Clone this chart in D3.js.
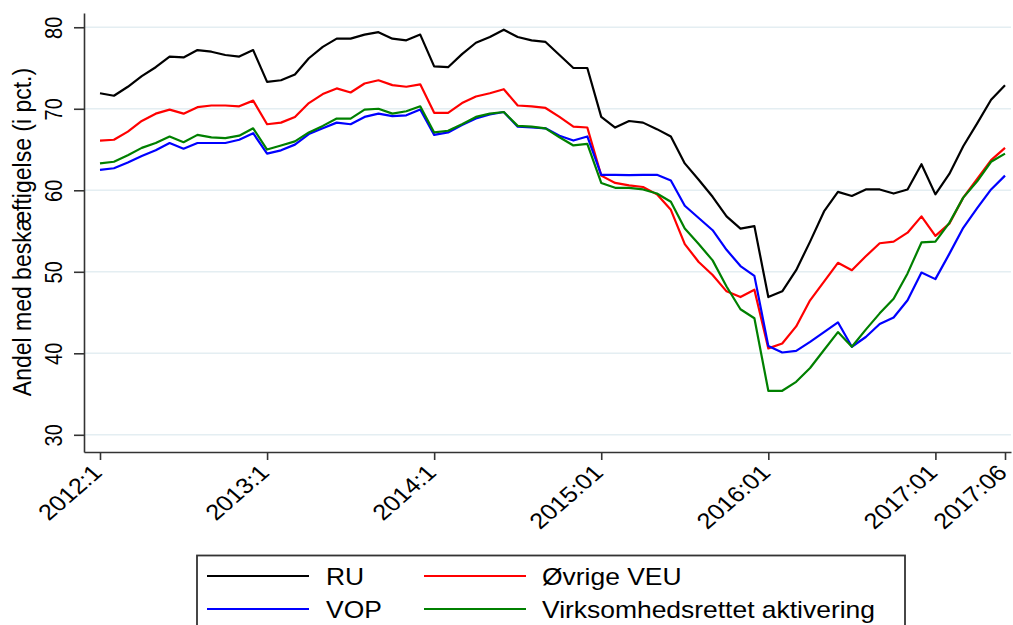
<!DOCTYPE html>
<html><head><meta charset="utf-8">
<script src="https://cdn.jsdelivr.net/npm/d3@7"></script>
<style>body{margin:0;background:#fff}svg{display:block;font-family:Arial,"Liberation Sans",sans-serif}</style>
</head><body><svg id="c" width="1013" height="625"></svg>
<script>
// Monthly observations 2012:1 .. 2017:06 (66 months)
const tickIdx = [0, 12, 24, 36, 48, 60, 65];
const tickLabels = ["2012:1", "2013:1", "2014:1", "2015:01", "2016:01", "2017:01", "2017:06"];
const yTicks = [30, 40, 50, 60, 70, 80];
const seriesNames = ["RU", "Øvrige VEU", "VOP", "Virksomhedsrettet aktivering"];
const seriesColors = ["#000000", "#ff0000", "#0000ff", "#008000"];

const RU = [71.9,71.6,72.7,74.0,75.1,76.4,76.3,77.2,77.0,76.6,76.4,77.2,
  73.3,73.5,74.2,76.2,77.6,78.6,78.6,79.1,79.4,78.6,78.4,79.1,
  75.2,75.1,76.7,78.1,78.8,79.7,78.8,78.4,78.2,76.6,75.0,75.0,
  69.0,67.7,68.5,68.3,67.5,66.6,63.3,61.3,59.2,56.8,55.3,55.6,
  46.9,47.6,50.2,53.7,57.4,59.8,59.3,60.1,60.1,59.6,60.1,63.2,
  59.5,62.0,65.4,68.2,71.1,72.9];
const VEU = [66.1,66.2,67.2,68.5,69.4,69.9,69.4,70.2,70.4,70.4,70.3,71.0,
  68.1,68.3,69.0,70.7,71.8,72.5,72.0,73.1,73.5,72.9,72.7,73.0,
  69.5,69.5,70.7,71.5,71.9,72.4,70.4,70.3,70.1,69.0,67.8,67.7,
  61.8,60.9,60.6,60.4,59.5,57.6,53.4,51.2,49.6,47.6,46.9,47.8,
  40.6,41.2,43.3,46.5,48.8,51.1,50.2,51.9,53.5,53.7,54.8,56.8,
  54.4,55.9,59.1,61.4,63.7,65.2];
const VOP = [62.5,62.7,63.4,64.2,64.9,65.8,65.1,65.8,65.8,65.8,66.2,67.0,
  64.5,64.9,65.6,66.9,67.6,68.3,68.1,69.0,69.4,69.1,69.2,69.9,
  66.8,67.1,68.0,68.8,69.3,69.6,67.8,67.7,67.6,66.7,66.1,66.6,
  61.9,61.9,61.85,61.9,61.9,61.2,58.1,56.6,55.1,52.7,50.7,49.5,
  40.9,40.1,40.3,41.4,42.6,43.8,40.8,42.0,43.6,44.4,46.5,49.9,
  49.1,52.2,55.4,57.8,60.1,61.8];
const VIRK = [63.3,63.5,64.3,65.2,65.8,66.6,65.9,66.8,66.5,66.4,66.7,67.6,
  65.0,65.5,66.0,67.1,67.9,68.8,68.8,69.9,70.0,69.4,69.7,70.3,
  67.1,67.3,68.1,69.0,69.4,69.6,67.9,67.8,67.6,66.5,65.5,65.7,
  60.9,60.3,60.3,60.1,59.6,58.6,55.3,53.4,51.4,48.2,45.4,44.3,
  35.4,35.4,36.5,38.2,40.4,42.6,40.8,42.9,44.9,46.7,49.8,53.6,
  53.7,56.0,59.1,61.1,63.5,64.5];

const allSeries = [RU, VEU, VOP, VIRK];
const SX = 1.15; // horizontal stretch of the original rendering's text

const svg = d3.select("#c");
const pLeft = 84, pRight = 1011, pTop = 13, pBottom = 452;

const x = d3.scaleLinear().domain([-1.149, 65.43]).range([pLeft, pRight]);
const y = d3.scaleLinear().domain([27.89, 81.75]).range([pBottom, pTop]);

// gridlines
svg.append("g").selectAll("line").data(yTicks).join("line")
  .attr("x1", pLeft).attr("x2", pRight)
  .attr("y1", d => y(d)).attr("y2", d => y(d))
  .attr("stroke", "#e4eef2").attr("stroke-width", 1.6);

// lines
const line = d3.line().x((d, i) => x(i)).y(d => y(d));
svg.append("g").selectAll("path").data(allSeries).join("path")
  .attr("d", d => line(d))
  .attr("fill", "none")
  .attr("stroke", (d, i) => seriesColors[i])
  .attr("stroke-width", 2.2)
  .attr("stroke-linejoin", "round");

// y axis
const gy = svg.append("g").attr("transform", `translate(${pLeft},0)`)
  .call(d3.axisLeft(y).tickValues(yTicks).tickSize(10).tickSizeOuter(0).tickFormat(d3.format("d")));
gy.select(".domain").attr("stroke", "#333").attr("stroke-width", 1.6);
gy.selectAll(".tick line").attr("stroke", "#333").attr("stroke-width", 1.6);
gy.selectAll(".tick text")
  .attr("x", null).attr("y", null).attr("dy", null)
  .attr("transform", `translate(-22,0) scale(${SX},1) rotate(-90)`)
  .attr("text-anchor", "middle")
  .attr("font-size", 20).attr("fill", "#000")
  .attr("font-family", "Arial, 'Liberation Sans', sans-serif");

// x axis
const gx = svg.append("g").attr("transform", `translate(0,${pBottom})`)
  .call(d3.axisBottom(x).tickValues(tickIdx).tickSize(8).tickSizeOuter(0)
    .tickFormat((d, i) => tickLabels[i]));
gx.select(".domain").attr("stroke", "#333").attr("stroke-width", 1.6);
gx.selectAll(".tick line").attr("stroke", "#333").attr("stroke-width", 1.6);
gx.selectAll(".tick text")
  .attr("x", null).attr("y", null).attr("dy", null)
  .attr("transform", `translate(3,22) scale(${SX},1) rotate(-45)`)
  .attr("text-anchor", "end")
  .attr("font-size", 22).attr("fill", "#000")
  .attr("font-family", "Arial, 'Liberation Sans', sans-serif");

// y title
svg.append("text")
  .attr("transform", `translate(31,232) scale(${SX},1) rotate(-90)`)
  .attr("text-anchor", "middle").attr("font-size", 23).attr("fill", "#000")
  .text("Andel med beskæftigelse (i pct.)");

// legend
const lg = svg.append("g");
lg.append("rect").attr("x", 197).attr("y", 555.5).attr("width", 708).attr("height", 100)
  .attr("fill", "#fff").attr("stroke", "#333").attr("stroke-width", 1.8);
const legPos = [
  {lx: 207, ly: 576, tx: 326, ty: 585},
  {lx: 424, ly: 576, tx: 542, ty: 585},
  {lx: 207, ly: 609, tx: 326, ty: 618},
  {lx: 424, ly: 609, tx: 542, ty: 618}
];
seriesNames.forEach((name, i) => {
  const p = legPos[i];
  lg.append("line").attr("x1", p.lx).attr("x2", p.lx + 102)
    .attr("y1", p.ly).attr("y2", p.ly)
    .attr("stroke", seriesColors[i]).attr("stroke-width", 2);
  lg.append("text").attr("transform", `translate(${p.tx},${p.ty}) scale(${SX},1)`)
    .attr("font-size", 23).attr("fill", "#000").text(name);
});
</script></body></html>
